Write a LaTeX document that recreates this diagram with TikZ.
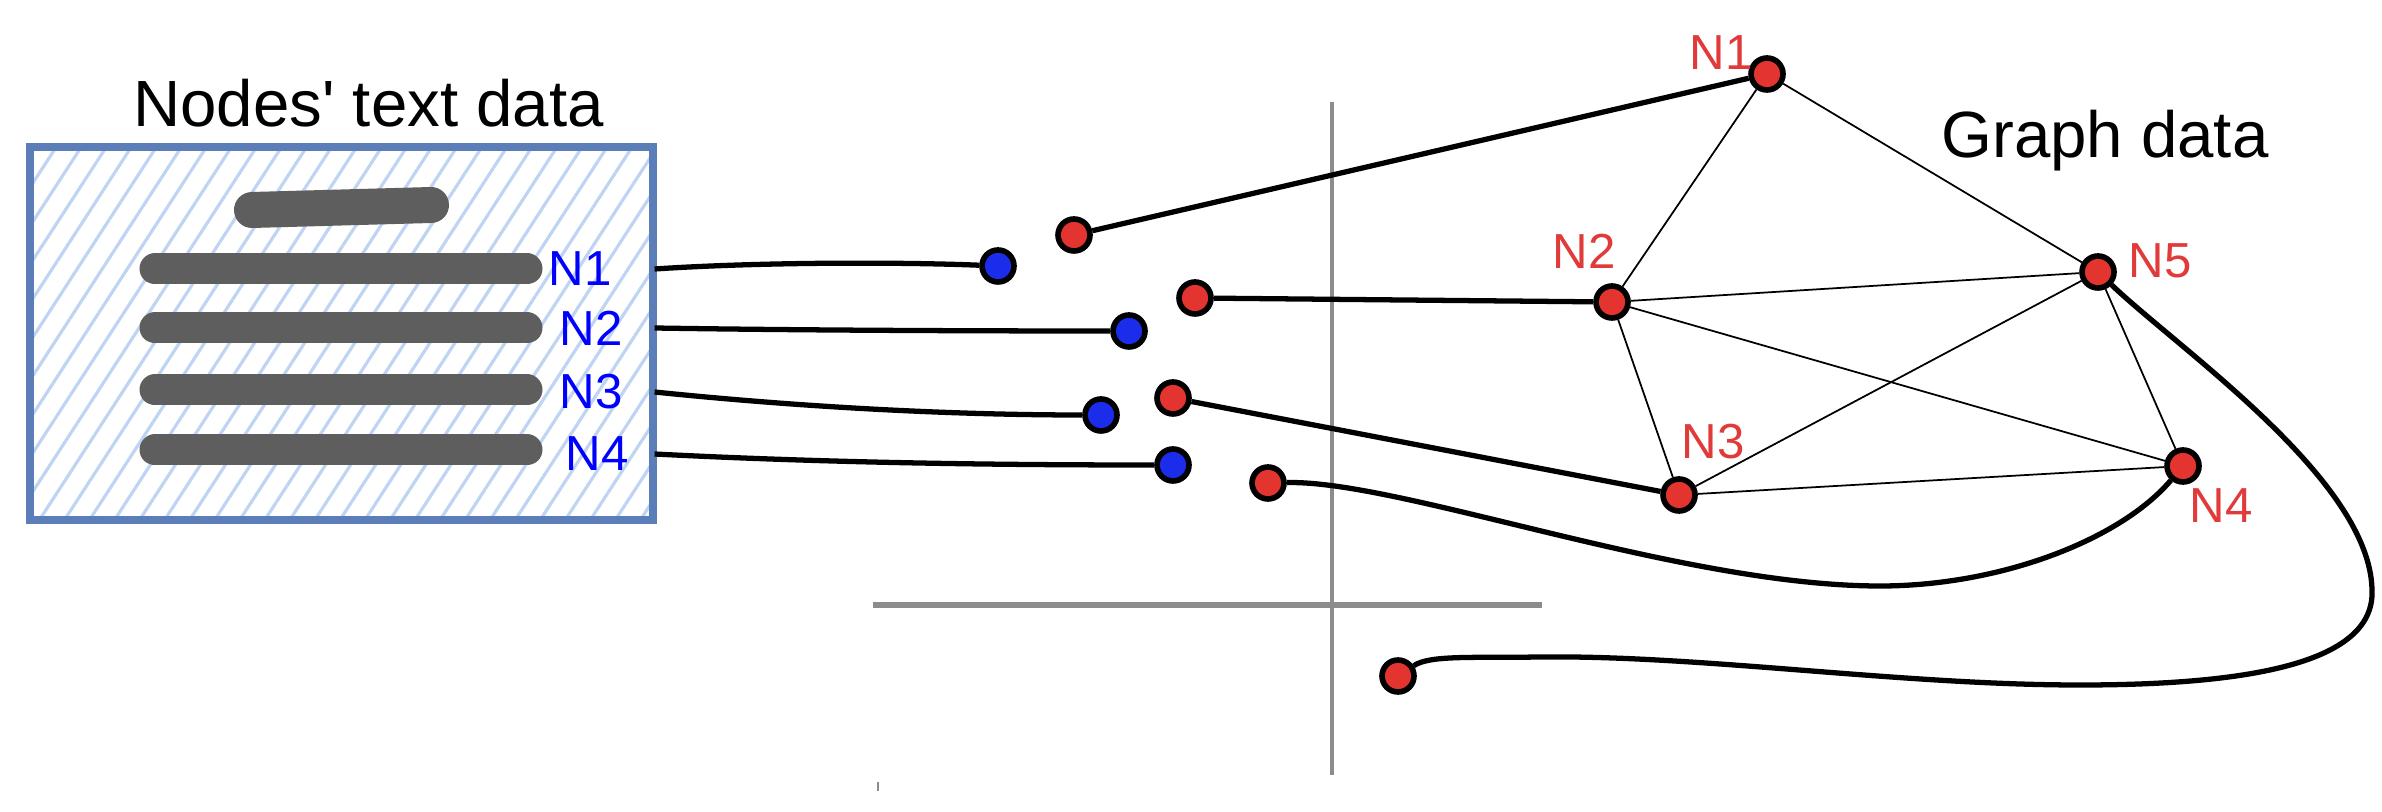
\documentclass[tikz,border=0pt]{standalone}
\usepackage{fontspec}
\setmainfont{Liberation Sans}
\usetikzlibrary{positioning, patterns.meta}
\definecolor{boxblue}{HTML}{5B7DB8}
\definecolor{hatchblue}{HTML}{BFD4F3}
\definecolor{bargray}{HTML}{5E5E5E}
\definecolor{dotred}{HTML}{E3342F}
\definecolor{dotblue}{HTML}{1C2CEB}
\definecolor{lblred}{HTML}{E03A3A}
\definecolor{guidegray}{HTML}{8C8C8C}
\tikzset{
	reddot/.style = {circle, draw=black, line width=1.6pt, fill=dotred, inner sep=0pt, minimum size=0.32cm},
	bluedot/.style = {reddot, fill=dotblue},
	bluelbl/.style = {font=\fontsize{14}{16}\selectfont, text=blue, inner sep=1pt},
	redlbl/.style = {bluelbl, text=lblred},
	bigtext/.style = {font=\fontsize{18.6}{22}\selectfont},
	wire/.style = {line width=1.5pt},
	gedge/.style = {line width=0.5pt},
	textline/.style = {line width=0.31cm, line cap=round, draw=bargray},
	guide/.style = {draw=guidegray, line width=1.2pt},
}

\begin{document}
\begin{tikzpicture}
\useasboundingbox (0,0) rectangle (23.82,-8.12);

% GUIDES
\draw [guide] (13.32,-1.02) -- (13.32,-7.75);
\draw [guide, line width=1.8pt] (8.73,-6.05) -- (15.42,-6.05);
\draw [guidegray, line width=0.4pt] (8.78,-7.82) -- (8.78,-7.91);

% NODES
% text data
\node (textbox) [draw=boxblue, line width=2.4pt, inner sep=0pt,
	pattern={Lines[angle=57, distance=0.21cm, line width=0.9pt]}, pattern color=hatchblue,
	minimum width=6.23cm, minimum height=3.73cm] at (3.415,-3.335) {};
\node (title) [bigtext, above=0.06 of textbox, xshift=0.27cm] {Nodes\textquotesingle{} text data};
\draw [textline, line width=0.36cm] (2.52,-2.10) -- (4.31,-2.05);
\foreach \y in {2.69,3.28,3.90,4.50}
	\draw [textline] (1.55,-\y) -- (5.27,-\y);
\node (t1) [bluelbl] at (5.80,-2.69) {N1};
\node (t2) [bluelbl] at (5.91,-3.28) {N2};
\node (t3) [bluelbl] at (5.91,-3.92) {N3};
\node (t4) [bluelbl] at (5.97,-4.54) {N4};
% ends
\node (b1) [bluedot] at (9.98,-2.66) {};
\node (b2) [bluedot] at (11.29,-3.31) {};
\node (b3) [bluedot] at (11.01,-4.15) {};
\node (b4) [bluedot] at (11.73,-4.65) {};
\node (r1) [reddot] at (10.74,-2.35) {};
\node (r2) [reddot] at (11.95,-2.98) {};
\node (r3) [reddot] at (11.73,-3.98) {};
\node (r4) [reddot] at (12.68,-4.83) {};
\node (r5) [reddot] at (13.98,-6.76) {};
% graph
\node (g1) [reddot] at (17.67,-0.74) {};
\node (g2) [reddot] at (16.12,-3.02) {};
\node (g3) [reddot] at (16.79,-4.95) {};
\node (g4) [reddot] at (21.83,-4.66) {};
\node (g5) [reddot] at (20.98,-2.72) {};
\node (l1) [redlbl, xshift=-0.46cm, yshift=0.21cm] at (g1) {N1};
\node (l2) [redlbl, xshift=-0.28cm, yshift=0.51cm] at (g2) {N2};
\node (l3) [redlbl, xshift=0.34cm, yshift=0.53cm] at (g3) {N3};
\node (l4) [redlbl, xshift=0.38cm, yshift=-0.40cm] at (g4) {N4};
\node (l5) [redlbl, xshift=0.62cm, yshift=0.11cm] at (g5) {N5};
\node (gtitle) [bigtext, anchor=base] at (21.05,-1.58) {Graph data};

% CONNECTIONS
\foreach \a/\b in {g1/g2, g1/g5, g2/g5, g2/g3, g2/g4, g3/g5, g3/g4, g5/g4}
	\draw [gedge] (\a) -- (\b);
\draw [wire] (textbox.east |- t1) .. controls (7.6,-2.62) and (9.0,-2.62) .. (b1);
\draw [wire] (textbox.east |- t2) .. controls (7.8,-3.30) and (9.5,-3.31) .. (b2);
\draw [wire] (textbox.east |- t3) .. controls (8.0,-4.07) and (9.5,-4.15) .. (b3);
\draw [wire] (textbox.east |- t4) .. controls (8.3,-4.63) and (10.0,-4.65) .. (b4);
\draw [wire] (r1) -- (g1);
\draw [wire] (r2) -- (g2);
\draw [wire] (r3) -- (g3);
\draw [wire] (r4) .. controls (14.0,-4.8) and (16.8,-5.86) .. (18.8,-5.86)
	.. controls (20.0,-5.86) and (21.2,-5.4) .. (g4);
\draw [wire] (g5) .. controls (21.8,-3.5) and (23.7,-4.8) .. (23.72,-5.9)
	.. controls (23.75,-6.6) and (22.6,-6.85) .. (20.8,-6.85)
	.. controls (19.0,-6.85) and (17.0,-6.55) .. (15.4,-6.57)
	.. controls (14.7,-6.58) and (14.3,-6.55) .. (r5);

\end{tikzpicture}
\end{document}
